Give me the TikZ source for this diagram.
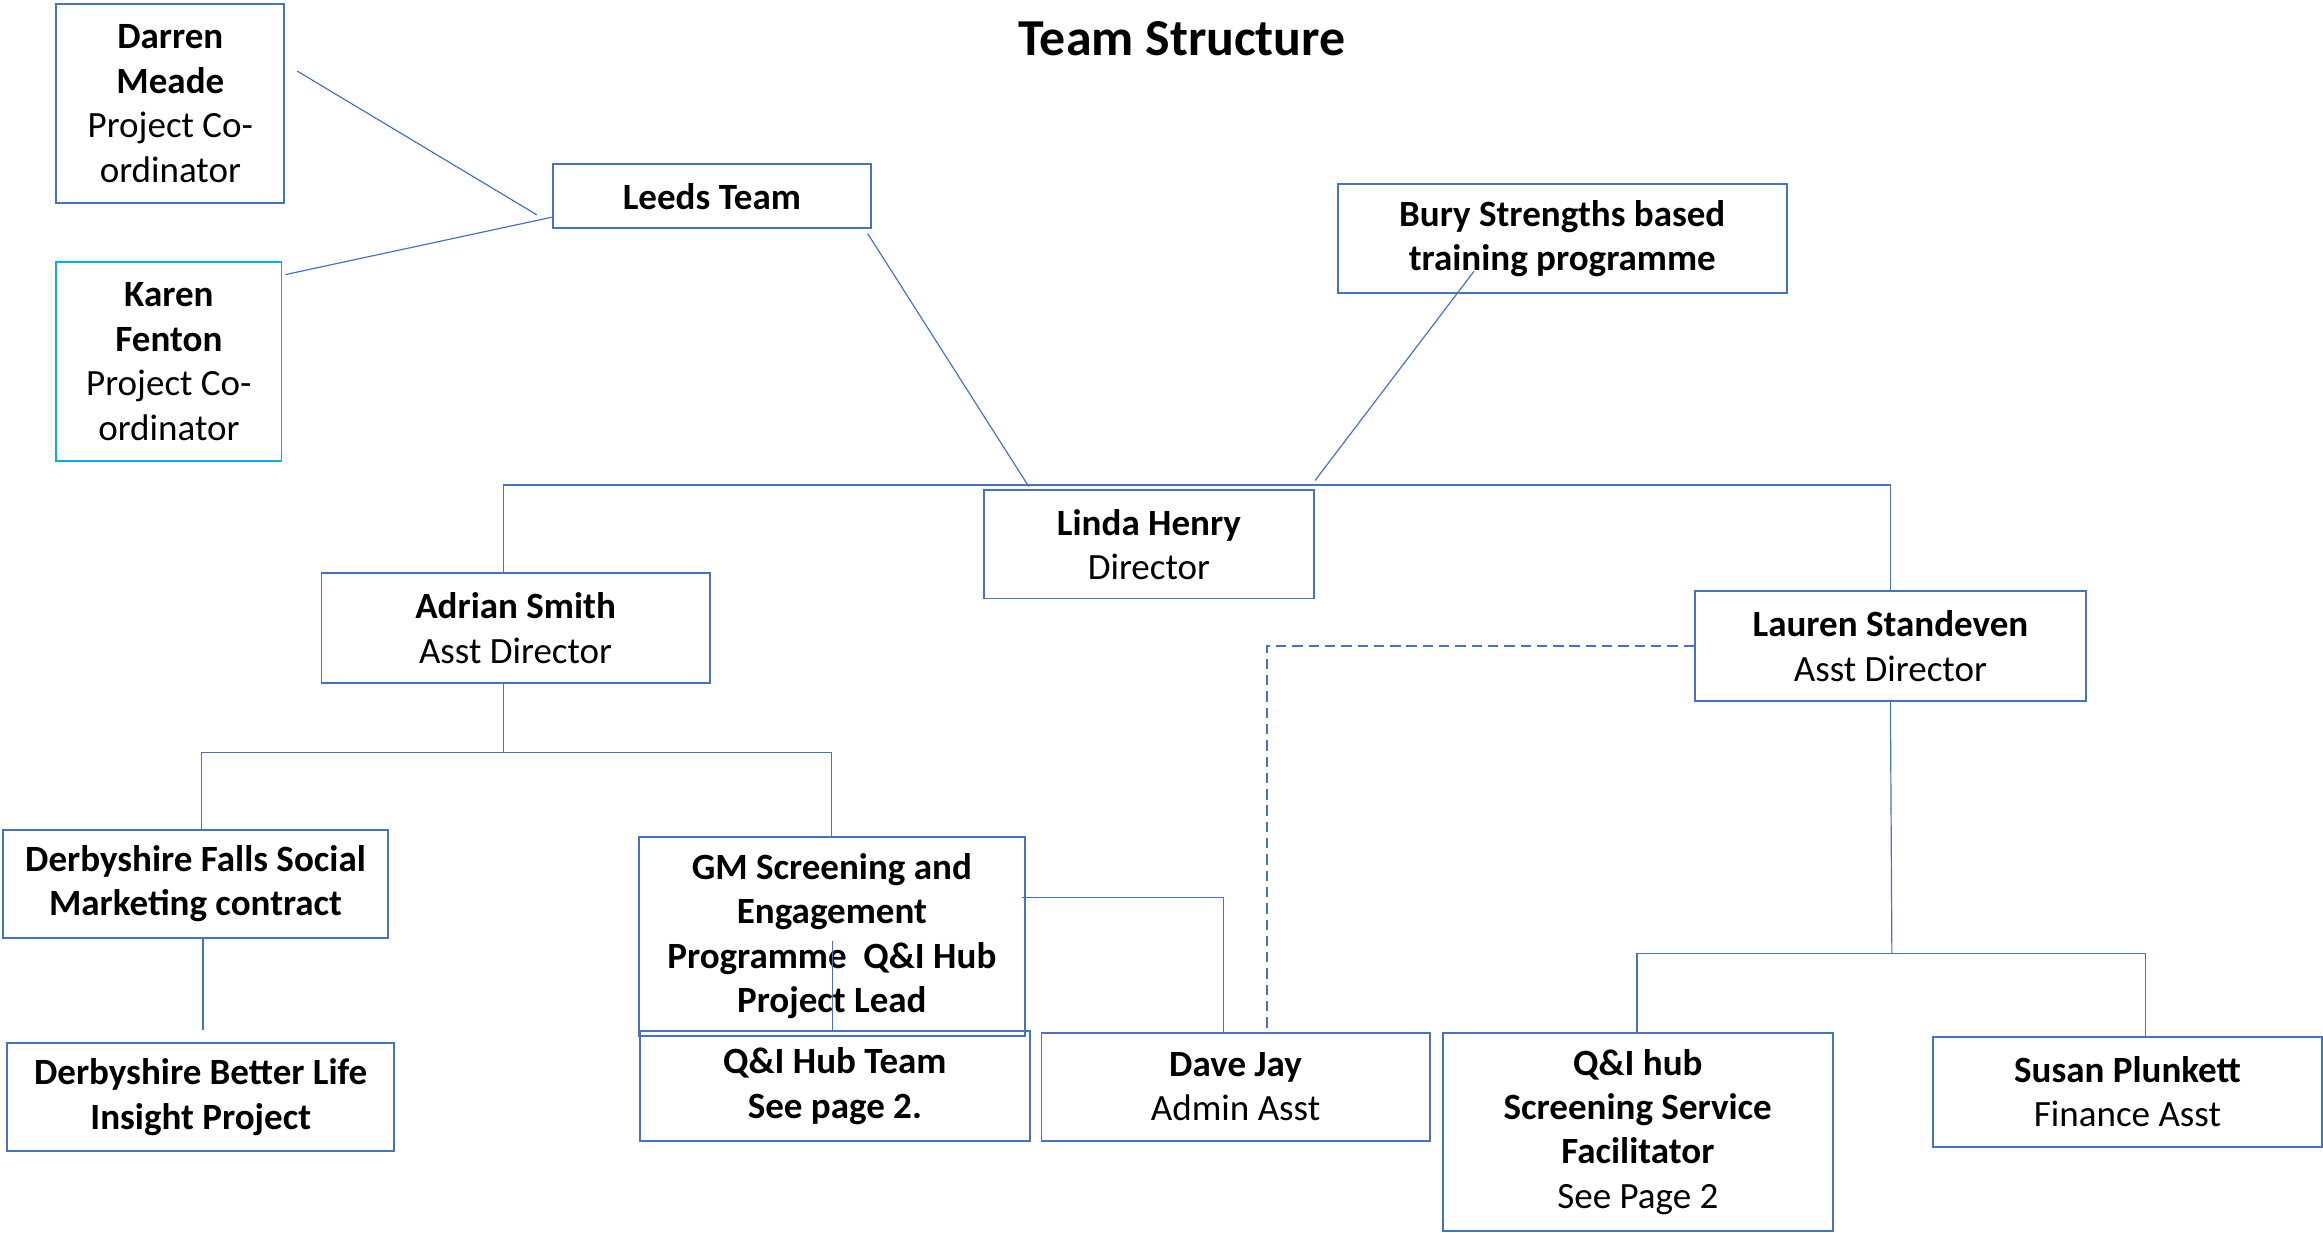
\documentclass[tikz,border=0pt]{standalone}
\usepackage{fontspec}
\setmainfont{Carlito}
\usepackage{tikz}
\definecolor{boxblue}{HTML}{4472C4}
\definecolor{boxcyan}{HTML}{00B0F0}
\tikzset{
    box/.style={draw=boxblue, line width=1.3pt, align=center, inner sep=0pt},
    sz/.style 2 args={minimum width=#1pt, minimum height=#2pt},
    link/.style={draw=boxblue, line width=0.8pt},
}

\begin{document}
\begin{tikzpicture}[x=1pt, y=-1pt, every node/.style={font=\fontsize{25}{30}\selectfont}]
            \useasboundingbox (0,0) rectangle (1568,832);
            \node (T) at (798,26) {\fontsize{35}{42}\selectfont\bfseries Team Structure};
            \node[box, sz={154}{134}] (DM) at (115,70) {\textbf{Darren}\\\textbf{Meade}\\Project Co-\\ordinator};
            \node[box, draw=boxcyan, sz={152}{134}] (KF) at (114,244) {\textbf{Karen}\\\textbf{Fenton}\\Project Co-\\ordinator};
            \node[box, sz={215}{43}] (LT) at (480.5,132.5) {\textbf{Leeds Team}};
            \node[box, sz={303}{74}] (BS) at (1054.5,161) {\textbf{Bury Strengths based}\\\textbf{training programme}};
            \node[box, sz={223}{73}] (LH) at (775.5,367.5) {\textbf{Linda Henry}\\Director};
            \node[box, sz={262}{74}] (AS) at (348,424) {\textbf{Adrian Smith}\\Asst Director};
            \node[box, sz={264}{74}] (LS) at (1276,436) {\textbf{Lauren Standeven}\\Asst Director};
            \node[box, sz={260}{73}] (DF) at (132,596.5) {\textbf{Derbyshire Falls Social}\\\textbf{Marketing contract}};
            \node[box, sz={261}{73}] (DB) at (135.5,740.5) {\textbf{Derbyshire Better Life}\\\textbf{Insight Project}};
            \node[box, sz={261}{134}] (GM) at (561.5,632) {\textbf{GM Screening and}\\\textbf{Engagement}\\\textbf{Programme\ \ Q\&I Hub}\\\textbf{Project Lead}};
            \node[box, sz={263}{74}] (HT) at (563.5,733) {\textbf{Q\&I Hub Team}\\\textbf{See page 2.}};
            \node[box, sz={262}{73}] (DJ) at (834,733.5) {\textbf{Dave Jay}\\Admin Asst};
            \node[box, sz={263}{134}] (QH) at (1105.5,764) {\textbf{Q\&I hub}\\\textbf{Screening Service}\\\textbf{Facilitator}\\See Page 2};
            \node[box, sz={262}{74}] (SP) at (1436,737) {\textbf{Susan Plunkett}\\Finance Asst};
            \path[link] ([xshift=8pt,yshift=22pt]DM.east) edge ([xshift=-10pt,yshift=-12.5pt]LT.west);
            \path[link] ([xshift=2pt,yshift=-9pt]KF.north east) edge ([yshift=8pt]LT.south west);
            \path[link] ([xshift=-3pt,yshift=-3pt]LT.south east) edge ([xshift=31pt,yshift=2pt]LH.north west);
            \path[link] ([xshift=-59.5pt,yshift=-22pt]BS.center) edge ([yshift=6pt]LH.north east);
            \draw[link] ([xshift=-8pt]AS.north) -- ++(0,-59) -| (LS.north);
            \draw[link] ([xshift=-8pt]AS.south) -- ++(0,46) coordinate (ab);
            \draw[link] ([xshift=4pt]DF.north) |- (ab) -| (GM.north);
            \path[link] ([xshift=5pt]DF.south) edge ([xshift=1.5pt,yshift=8pt]DB.north);
            \path[link] ([xshift=0.5pt,yshift=-3pt]GM.center) edge ([xshift=-1.5pt]HT.north);
            \draw[link] ([xshift=-3pt,yshift=26pt]GM.east) -| ([xshift=-8pt]DJ.north);
            \draw[link, line width=1.4pt, dash pattern=on 7pt off 4pt] (LS.west) -| ([xshift=21pt]DJ.north);
            \draw[link] (LS.south) -- ++(1,170) coordinate (lb);
            \draw[link] ([xshift=-0.5pt]QH.north) |- (lb) -| ([xshift=12pt]SP.north);
        \end{tikzpicture}
\end{document}
